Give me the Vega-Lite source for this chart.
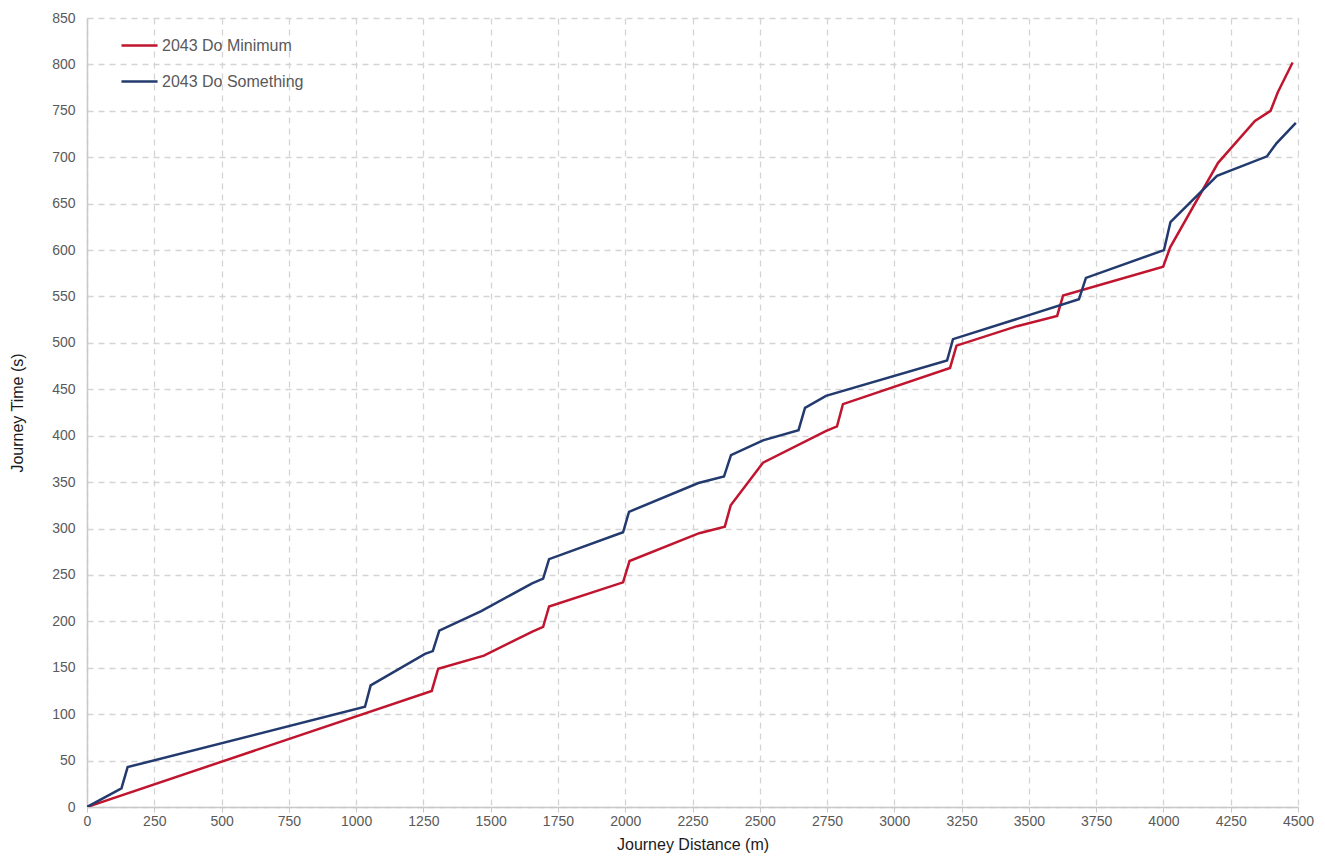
{
  "$schema": "https://vega.github.io/schema/vega-lite/v6.json",
  "autosize": "none",
  "width": 1211,
  "height": 789,
  "padding": {"left": 87, "top": 18, "right": 27, "bottom": 52},
  "background": "white",
  "config": {
    "font": "Liberation Sans",
    "view": {"stroke": null}
  },
  "data": {
    "values": [
      {"series": "2043 Do Minimum", "o": 0, "d": 0, "t": 0},
      {"series": "2043 Do Minimum", "o": 1, "d": 1281, "t": 125},
      {"series": "2043 Do Minimum", "o": 2, "d": 1305, "t": 149},
      {"series": "2043 Do Minimum", "o": 3, "d": 1475, "t": 163},
      {"series": "2043 Do Minimum", "o": 4, "d": 1655, "t": 189},
      {"series": "2043 Do Minimum", "o": 5, "d": 1695, "t": 194},
      {"series": "2043 Do Minimum", "o": 6, "d": 1717, "t": 216},
      {"series": "2043 Do Minimum", "o": 7, "d": 1992, "t": 242},
      {"series": "2043 Do Minimum", "o": 8, "d": 2016, "t": 265},
      {"series": "2043 Do Minimum", "o": 9, "d": 2275, "t": 295},
      {"series": "2043 Do Minimum", "o": 10, "d": 2370, "t": 302},
      {"series": "2043 Do Minimum", "o": 11, "d": 2392, "t": 325},
      {"series": "2043 Do Minimum", "o": 12, "d": 2512, "t": 371},
      {"series": "2043 Do Minimum", "o": 13, "d": 2745, "t": 405},
      {"series": "2043 Do Minimum", "o": 14, "d": 2787, "t": 410},
      {"series": "2043 Do Minimum", "o": 15, "d": 2809, "t": 434},
      {"series": "2043 Do Minimum", "o": 16, "d": 3207, "t": 473},
      {"series": "2043 Do Minimum", "o": 17, "d": 3231, "t": 497},
      {"series": "2043 Do Minimum", "o": 18, "d": 3456, "t": 518},
      {"series": "2043 Do Minimum", "o": 19, "d": 3605, "t": 529},
      {"series": "2043 Do Minimum", "o": 20, "d": 3627, "t": 551},
      {"series": "2043 Do Minimum", "o": 21, "d": 3999, "t": 582},
      {"series": "2043 Do Minimum", "o": 22, "d": 4025, "t": 603},
      {"series": "2043 Do Minimum", "o": 23, "d": 4203, "t": 694},
      {"series": "2043 Do Minimum", "o": 24, "d": 4340, "t": 739},
      {"series": "2043 Do Minimum", "o": 25, "d": 4398, "t": 750},
      {"series": "2043 Do Minimum", "o": 26, "d": 4425, "t": 770},
      {"series": "2043 Do Minimum", "o": 27, "d": 4480, "t": 802},
      {"series": "2043 Do Something", "o": 0, "d": 0, "t": 0},
      {"series": "2043 Do Something", "o": 1, "d": 128, "t": 20},
      {"series": "2043 Do Something", "o": 2, "d": 151, "t": 43},
      {"series": "2043 Do Something", "o": 3, "d": 1033, "t": 108},
      {"series": "2043 Do Something", "o": 4, "d": 1054, "t": 131},
      {"series": "2043 Do Something", "o": 5, "d": 1256, "t": 165},
      {"series": "2043 Do Something", "o": 6, "d": 1285, "t": 168},
      {"series": "2043 Do Something", "o": 7, "d": 1309, "t": 190},
      {"series": "2043 Do Something", "o": 8, "d": 1465, "t": 211},
      {"series": "2043 Do Something", "o": 9, "d": 1654, "t": 241},
      {"series": "2043 Do Something", "o": 10, "d": 1695, "t": 246},
      {"series": "2043 Do Something", "o": 11, "d": 1717, "t": 267},
      {"series": "2043 Do Something", "o": 12, "d": 1992, "t": 296},
      {"series": "2043 Do Something", "o": 13, "d": 2014, "t": 318},
      {"series": "2043 Do Something", "o": 14, "d": 2272, "t": 349},
      {"series": "2043 Do Something", "o": 15, "d": 2367, "t": 356},
      {"series": "2043 Do Something", "o": 16, "d": 2393, "t": 379},
      {"series": "2043 Do Something", "o": 17, "d": 2512, "t": 395},
      {"series": "2043 Do Something", "o": 18, "d": 2644, "t": 406},
      {"series": "2043 Do Something", "o": 19, "d": 2668, "t": 430},
      {"series": "2043 Do Something", "o": 20, "d": 2746, "t": 443},
      {"series": "2043 Do Something", "o": 21, "d": 3196, "t": 481},
      {"series": "2043 Do Something", "o": 22, "d": 3218, "t": 504},
      {"series": "2043 Do Something", "o": 23, "d": 3686, "t": 547},
      {"series": "2043 Do Something", "o": 24, "d": 3712, "t": 570},
      {"series": "2043 Do Something", "o": 25, "d": 4002, "t": 600},
      {"series": "2043 Do Something", "o": 26, "d": 4026, "t": 630},
      {"series": "2043 Do Something", "o": 27, "d": 4199, "t": 680},
      {"series": "2043 Do Something", "o": 28, "d": 4385, "t": 701},
      {"series": "2043 Do Something", "o": 29, "d": 4420, "t": 715},
      {"series": "2043 Do Something", "o": 30, "d": 4492, "t": 737}
    ]
  },
  "mark": {"type": "line", "strokeWidth": 2.5, "clip": true},
  "encoding": {
    "x": {
      "field": "d", "type": "quantitative",
      "scale": {"domain": [0, 4500], "nice": false, "zero": true},
      "axis": {
        "title": "Journey Distance (m)",
        "format": "d",
        "values": [0,250,500,750,1000,1250,1500,1750,2000,2250,2500,2750,3000,3250,3500,3750,4000,4250,4500],
        "grid": true, "gridDash": [6, 5], "gridColor": "#d4d4d4", "gridWidth": 1.3,
        "domainColor": "#c8c8c8", "domainWidth": 1.5,
        "ticks": true, "tickColor": "#c8c8c8", "tickSize": 5,
        "labelFontSize": 14, "labelColor": "#595959", "labelPadding": 2,
        "labelFlush": false,
        "titleFontSize": 16, "titleColor": "#1a1a1a", "titleFontWeight": "normal", "titlePadding": 8
      }
    },
    "y": {
      "field": "t", "type": "quantitative",
      "scale": {"domain": [0, 850], "nice": false},
      "axis": {
        "title": "Journey Time (s)",
        "format": "d",
        "values": [0,50,100,150,200,250,300,350,400,450,500,550,600,650,700,750,800,850],
        "grid": true, "gridDash": [6, 5], "gridColor": "#d4d4d4", "gridWidth": 1.3,
        "domainColor": "#c8c8c8", "domainWidth": 1.5,
        "ticks": false,
        "labelFontSize": 14, "labelColor": "#595959", "labelPadding": 12,
        "titleFontSize": 16, "titleColor": "#1a1a1a", "titleFontWeight": "normal", "titlePadding": 26
      }
    },
    "color": {
      "field": "series", "type": "nominal",
      "scale": {"domain": ["2043 Do Minimum", "2043 Do Something"], "range": ["#c0152f", "#233a6e"]},
      "legend": {
        "title": null,
        "orient": "none", "legendX": 33, "legendY": 8,
        "symbolType": "stroke", "symbolStrokeWidth": 2.5, "symbolSize": 1300,
        "labelFontSize": 16, "labelColor": "#595959", "rowPadding": 8, "labelOffset": 3
      }
    },
    "order": {"field": "o", "type": "quantitative"}
  }
}
